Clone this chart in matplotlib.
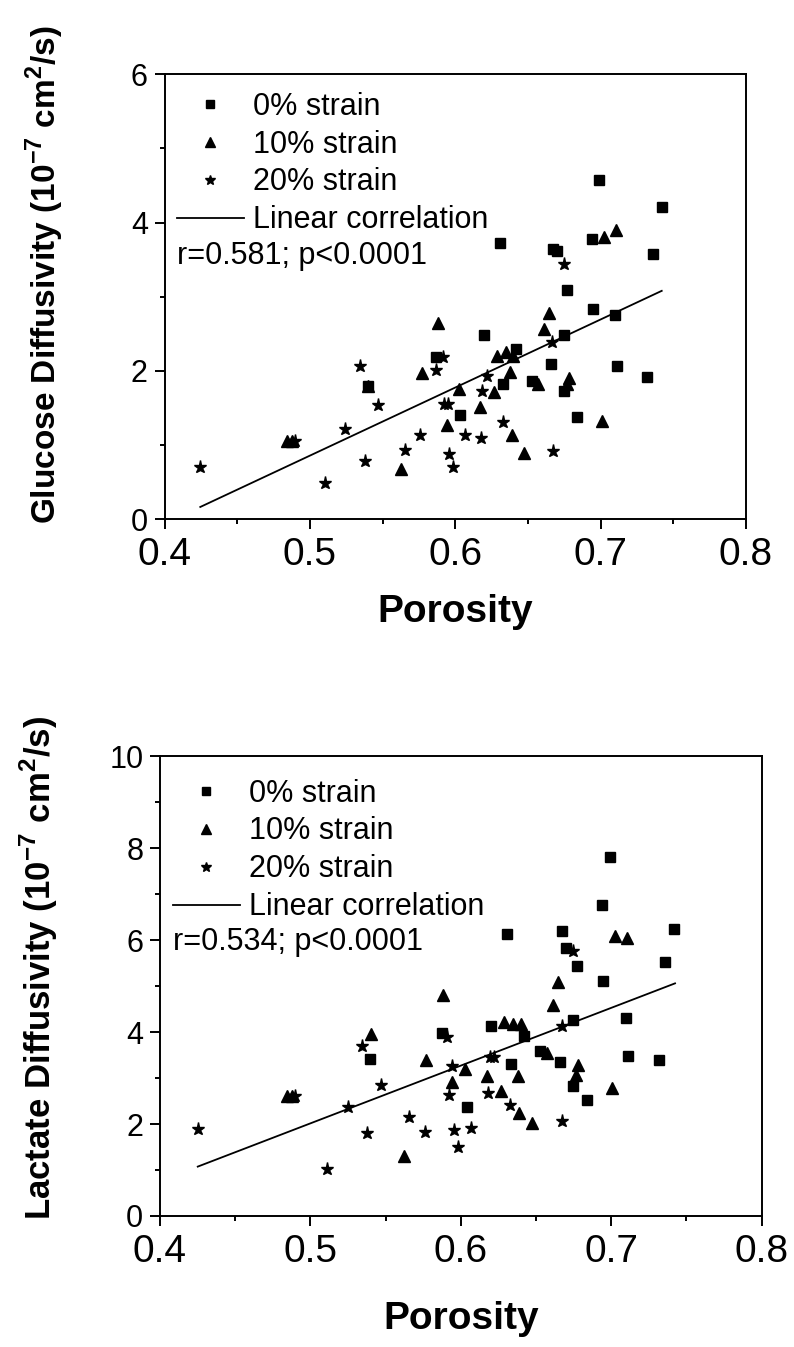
import numpy as np
import matplotlib
matplotlib.use("Agg")
import matplotlib.pyplot as plt
from matplotlib.lines import Line2D
from matplotlib.ticker import MultipleLocator, FormatStrFormatter

plt.rcParams['font.family'] = ['Liberation Sans', 'DejaVu Sans']
plt.rcParams['mathtext.fontset'] = 'custom'
plt.rcParams['mathtext.rm'] = 'Liberation Sans'
plt.rcParams['mathtext.bf'] = 'Liberation Sans:bold'

# glucose diffusivity vs porosity
g_por_0 = [0.540, 0.587, 0.603, 0.699, 0.742, 0.631, 0.667, 0.670, 0.694, 0.736, 0.677, 0.695,
           0.710, 0.675, 0.620, 0.642, 0.666, 0.633, 0.653, 0.675, 0.711, 0.732, 0.684]
g_dif_0 = [1.80, 2.19, 1.40, 4.58, 4.21, 3.72, 3.64, 3.61, 3.78, 3.58, 3.09, 2.83,
           2.76, 2.49, 2.49, 2.30, 2.10, 1.83, 1.87, 1.73, 2.06, 1.92, 1.38]
g_por_10 = [0.4842, 0.4876, 0.540, 0.5625, 0.5769, 0.588, 0.5944, 0.6028, 0.6172, 0.6267, 0.6289, 0.6349,
            0.6378, 0.6389, 0.640, 0.6471, 0.6571, 0.6611, 0.6648, 0.6766, 0.6781, 0.7007, 0.7025, 0.7103]
g_dif_10 = [1.06, 1.06, 1.80, 0.68, 1.97, 2.65, 1.27, 1.76, 1.52, 1.71, 2.20, 2.26,
            1.99, 1.13, 2.20, 0.89, 1.83, 2.56, 2.78, 1.83, 1.90, 1.32, 3.80, 3.90]
g_por_20 = [0.4246, 0.5106, 0.4895, 0.5244, 0.538, 0.5342, 0.5469, 0.5657, 0.576, 0.5917, 0.5866, 0.592,
            0.595, 0.596, 0.5985, 0.6747, 0.6667, 0.6219, 0.6187, 0.6329, 0.607, 0.6176, 0.6671]
g_dif_20 = [0.71, 0.49, 1.06, 1.22, 0.79, 2.06, 1.54, 0.94, 1.14, 2.19, 2.01, 1.55,
            1.55, 0.88, 0.70, 3.44, 2.39, 1.93, 1.73, 1.31, 1.13, 1.10, 0.92]
g_fit = [0.4246, 0.742]     # x range of fit line
g_slope, g_icpt = 9.18, -3.732

# lactate diffusivity vs porosity
l_por_0 = [0.5396, 0.5873, 0.6992, 0.6941, 0.6309, 0.6671, 0.742, 0.670, 0.677, 0.736, 0.6947, 0.7098,
           0.6748, 0.6201, 0.642, 0.6527, 0.666, 0.6748, 0.711, 0.7318, 0.6332, 0.6039, 0.6839]
l_dif_0 = [3.41, 3.99, 7.81, 6.76, 6.14, 6.21, 6.24, 5.83, 5.43, 5.53, 5.11, 4.30,
           4.27, 4.14, 3.92, 3.58, 3.36, 2.83, 3.48, 3.39, 3.30, 2.38, 2.52]
l_por_10 = [0.4842, 0.4876, 0.5401, 0.5625, 0.5769, 0.588, 0.5944, 0.6028, 0.6172, 0.6267, 0.6289, 0.6349,
            0.6378, 0.6389, 0.640, 0.6471, 0.6571, 0.6611, 0.6648, 0.6766, 0.6781, 0.7007, 0.7025, 0.7103]
l_dif_10 = [2.60, 2.60, 3.95, 1.31, 3.40, 4.81, 2.91, 3.20, 3.05, 2.71, 4.23, 4.17,
            3.05, 2.25, 4.17, 2.02, 3.54, 4.59, 5.09, 3.07, 3.29, 2.78, 6.09, 6.06]
l_por_20 = [0.4251, 0.5108, 0.4898, 0.5252, 0.5379, 0.5345, 0.5467, 0.5658, 0.5762, 0.591, 0.5924, 0.5944,
            0.5955, 0.5984, 0.6748, 0.6671, 0.6194, 0.622, 0.6179, 0.6327, 0.6068, 0.6673]
l_dif_20 = [1.89, 1.03, 2.60, 2.38, 1.81, 3.70, 2.84, 2.16, 1.83, 3.89, 2.63, 3.27,
            1.86, 1.49, 5.77, 4.13, 3.47, 3.47, 2.67, 2.42, 1.92, 2.07]
l_fit = [0.4251, 0.7424]
l_slope, l_icpt = 12.57, -4.27

labels = ['0% strain', '10% strain', '20% strain', 'Linear correlation']

fig = plt.figure(figsize=(7.94, 13.47), dpi=100)
ax1 = fig.add_axes([0.2072, 0.6145, 0.7324, 0.3304])
ax2 = fig.add_axes([0.2015, 0.0973, 0.7578, 0.3411])


def draw(ax, p0, d0, p10, d10, p20, d20, fit, slope, icpt, ymax, ylab, ysize, lab_pos, rtxt, r_y, leg_y, xlab_y):
    ax.plot(p0, d0, 's', color='black', ms=7.5, ls='none')
    ax.plot(p10, d10, '^', color='black', ms=8.5, ls='none')
    ax.plot(p20, d20, '*', color='black', ms=9.5, ls='none')
    xf = np.array(fit)
    ax.plot(xf, slope * xf + icpt, '-', color='black', lw=1.3)

    ax.set_xlim(0.4, 0.8)
    ax.set_ylim(0, ymax)
    ax.xaxis.set_major_locator(MultipleLocator(0.1))
    ax.xaxis.set_minor_locator(MultipleLocator(0.05))
    ax.xaxis.set_major_formatter(FormatStrFormatter('%.1f'))
    ax.yaxis.set_major_locator(MultipleLocator(2))
    ax.yaxis.set_minor_locator(MultipleLocator(1))
    ax.tick_params(which='both', direction='out', top=False, right=False, width=1.4)
    ax.tick_params(which='major', length=7)
    ax.tick_params(which='minor', length=3.6)
    ax.tick_params(axis='x', which='major', labelsize=28, pad=6)
    ax.tick_params(axis='y', which='major', labelsize=22, pad=5)
    for s in ax.spines.values():
        s.set_linewidth(1.4)

    ax.set_xlabel('Porosity', fontsize=28, fontweight='bold')
    ax.xaxis.set_label_coords(0.5, xlab_y)
    ax.set_ylabel(ylab, fontsize=ysize, fontweight='bold')
    ax.yaxis.set_label_coords(lab_pos[0], lab_pos[1])

    hs = [Line2D([], [], marker='s', color='black', ls='none', ms=5.5),
          Line2D([], [], marker='^', color='black', ls='none', ms=6.5),
          Line2D([], [], marker='*', color='black', ls='none', ms=7),
          Line2D([], [], color='black', lw=1.3)]
    ax.legend(hs, labels, loc='upper left', bbox_to_anchor=(0.021, leg_y), frameon=False,
              fontsize=22, borderpad=0, borderaxespad=0, handlelength=2.2, handletextpad=0.3,
              labelspacing=0.26)
    ax.text(0.021, r_y, rtxt, transform=ax.transAxes, fontsize=22, va='center', ha='left')


draw(ax1, g_por_0, g_dif_0, g_por_10, g_dif_10, g_por_20, g_dif_20, g_fit, g_slope, g_icpt, 6,
     r'Glucose Diffusivity (10$^{\mathbf{-7}}$ cm$^{\mathbf{2}}$/s)', 24, (-0.169, 0.549),
     'r=0.581; p<0.0001', 0.592, 0.961, -0.168)
draw(ax2, l_por_0, l_dif_0, l_por_10, l_dif_10, l_por_20, l_dif_20, l_fit, l_slope, l_icpt, 10,
     r'Lactate Diffusivity (10$^{\mathbf{-7}}$ cm$^{\mathbf{2}}$/s)', 25, (-0.166, 0.539),
     'r=0.534; p<0.0001', 0.597, 0.952, -0.185)

fig.savefig('out.png', dpi=100, facecolor='white')
